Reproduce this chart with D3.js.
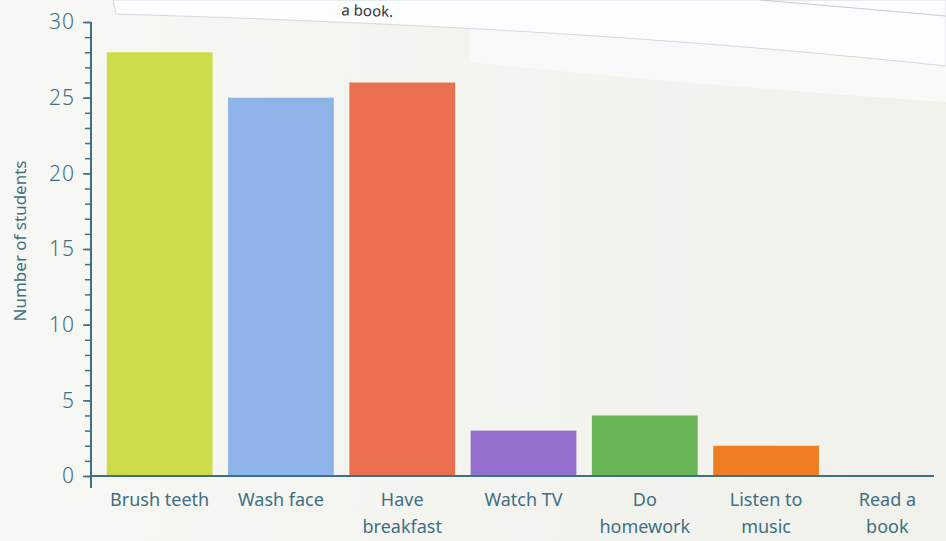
<!DOCTYPE html>
<html>
<head>
<meta charset="utf-8">
<script src="https://cdn.jsdelivr.net/npm/d3@7"></script>
<style>
  html, body { margin: 0; padding: 0; background: #f4f4ef; }
  svg { display: block; }
  text { font-family: "Noto Sans", "Open Sans", sans-serif; }
</style>
</head>
<body>
<svg id="chart" width="946" height="541"></svg>
<script>
// Morning activities and how many students do each
const activities = ["Brush teeth", "Wash face", "Have breakfast", "Watch TV", "Do homework", "Listen to music", "Read a book"];
const labelLines = [["Brush teeth"], ["Wash face"], ["Have", "breakfast"], ["Watch TV"], ["Do", "homework"], ["Listen to", "music"], ["Read a", "book"]];
const students = [28, 25, 26, 3, 4, 2, 0];
const barColors = ["#cedb4b", "#8db3e9", "#ea704f", "#9670cf", "#69b555", "#ee7d24", "#cccccc"];
const majorTicks = [0, 5, 10, 15, 20, 25, 30];
const yTitle = "Number of students";

const svg = d3.select("#chart");
const W = 946, H = 541;
const ink = "#3f6f82";

// paper background with a soft gradient
const defs = svg.append("defs");
const bg = defs.append("linearGradient").attr("id", "paper").attr("x1", 0).attr("x2", 1).attr("y1", 0).attr("y2", 0);
bg.append("stop").attr("offset", 0).attr("stop-color", "#f7f7f3");
bg.append("stop").attr("offset", 1).attr("stop-color", "#f1f1ec");
svg.append("rect").attr("width", W).attr("height", H).attr("fill", "url(#paper)");

// sticky note curling across the top
const note = svg.append("g");
note.append("path")
  .attr("d", "M470,0 L946,0 L946,102 C800,92 620,78 470,62 Z")
  .attr("fill", "#f9fafa").attr("opacity", 0.9);
note.append("path")
  .attr("d", "M113,0 L946,0 L946,66 C700,40 450,24 116,14 Z")
  .attr("fill", "#fbfdfe")
  .attr("stroke", "#d4dadd").attr("stroke-width", 1);
note.append("path")
  .attr("d", "M760,0 C830,6 890,11 946,16")
  .attr("fill", "none").attr("stroke", "#c4cbcf").attr("stroke-width", 1);
note.append("text")
  .attr("transform", "translate(393,17) rotate(2)")
  .attr("text-anchor", "end")
  .attr("font-size", 15)
  .attr("fill", "#333")
  .text("a book.");

// scales
const x = d3.scaleBand().domain(activities).range([99, 948]).paddingInner(0.128).paddingOuter(0.064);
const y = d3.scaleLinear().domain([0, 30]).range([476, 22]);
const axisX = 91;

// bars
svg.append("g").selectAll("rect")
  .data(activities)
  .join("rect")
  .attr("x", d => x(d))
  .attr("width", x.bandwidth())
  .attr("y", (d, i) => y(students[i]))
  .attr("height", (d, i) => y(0) - y(students[i]))
  .attr("fill", (d, i) => barColors[i]);

// y axis: minor ticks every unit, labels every five
const yAxisMinor = d3.axisLeft(y).tickValues(d3.range(0, 31)).tickSize(6).tickFormat("");
const gMinor = svg.append("g").attr("transform", `translate(${axisX},0)`).call(yAxisMinor);
gMinor.select(".domain").remove();
gMinor.selectAll("line").attr("stroke", ink).attr("stroke-width", 1.5);

const yAxis = d3.axisLeft(y).tickValues(majorTicks).tickSize(8).tickPadding(6);
const gY = svg.append("g").attr("transform", `translate(${axisX},0)`).call(yAxis);
gY.select(".domain").remove();
gY.selectAll("line").attr("stroke", ink).attr("stroke-width", 1.5);
gY.selectAll("text").attr("font-size", 21).attr("font-weight", 300).attr("fill", ink).attr("dx", -2)
  .attr("letter-spacing", 1);

svg.append("line")
  .attr("x1", axisX).attr("x2", axisX)
  .attr("y1", y(30)).attr("y2", y(0) + 12)
  .attr("stroke", ink).attr("stroke-width", 2);

// x axis baseline
svg.append("line")
  .attr("x1", axisX).attr("x2", 934)
  .attr("y1", y(0)).attr("y2", y(0))
  .attr("stroke", ink).attr("stroke-width", 2);

// category labels
const xl = svg.append("g");
activities.forEach((a, i) => {
  const t = xl.append("text")
    .attr("x", x(a) + x.bandwidth() / 2)
    .attr("y", 506)
    .attr("text-anchor", "middle")
    .attr("font-size", 18)
    .attr("fill", ink);
  labelLines[i].forEach((ln, j) => {
    t.append("tspan").attr("x", x(a) + x.bandwidth() / 2).attr("dy", j === 0 ? 0 : 27).text(ln);
  });
});

// y title
svg.append("text")
  .attr("transform", `translate(26,${(y(0) + y(30)) / 2 - 8}) rotate(-90)`)
  .attr("text-anchor", "middle")
  .attr("font-size", 17)
  .attr("fill", ink)
  .text(yTitle);
</script>
</body>
</html>
